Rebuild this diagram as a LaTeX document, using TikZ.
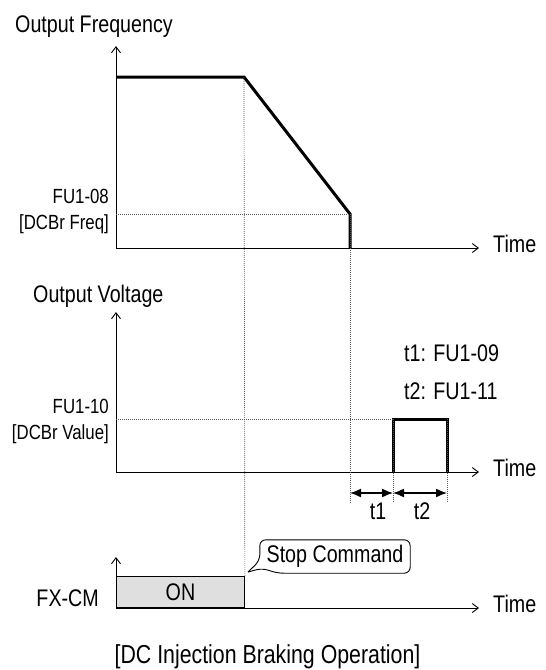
\documentclass[tikz,border=0pt]{standalone}
\usepackage{fontspec}
\setmainfont{Liberation Sans}[FakeStretch=0.82]
\usepackage{tikz}
\usetikzlibrary{positioning,arrows.meta}

\begin{document}
\begin{tikzpicture}[x=1pt, y=-1pt,
    font=\fontsize{24}{28}\selectfont,
    eje/.style={line width=0.9pt, -{Straight Barb[length=6pt,width=9pt]}},
    senal/.style={line width=3pt, line join=miter},
    guia/.style={line width=0.7pt, gray!70!black, dash pattern=on 1pt off 1pt},
    cota/.style={line width=1.4pt, {Latex[length=11pt,width=9pt]}-{Latex[length=11pt,width=9pt]}},
    etq/.style={inner sep=0pt},
    nivel/.style={etq, anchor=base east, font=\fontsize{20.5}{24}\selectfont}]
    \useasboundingbox (0,0) rectangle (546,670);

    % Ejes de los tres diagramas
    \foreach \n/\yo/\yt in {f/248/46, v/472/312, c/608/557} {
        \coordinate (o\n) at (116,\yo);
        \coordinate (top\n) at (116,\yt);
        \coordinate (end\n) at (479,\yo);
        \draw[eje] (o\n) -- (top\n);
        \draw[eje] (o\n) -- (end\n);
        \node[etq, anchor=base west] (time\n) at (493,\yo+4) {Time};
    }

    % Titulos de los ejes
    \node[etq, anchor=base west] (freq) at (15,32) {Output Frequency};
    \node[etq, anchor=base west] (volt) at (33,302) {Output Voltage};
    \node[etq, anchor=base east] (fxcm) at (99,606) {FX-CM};

    % Frecuencia de salida
    \coordinate (f0) at (116,77);
    \coordinate (f1) at (244,77);
    \coordinate (f2) at (350,214);
    \coordinate (f3) at (350,248);
    \draw[senal] (f0) -- (f1) -- (f2) -- (f3);

    % Tension de salida (frenado DC)
    \coordinate (p0) at (393,472);
    \coordinate (p1) at (393,419);
    \coordinate (p2) at (447,419);
    \coordinate (p3) at (447,472);
    \draw[senal] (p0) -- (p1) -- (p2) -- (p3);

    % Niveles de referencia
    \draw[guia] (of |- f2) -- (f2);
    \draw[guia] (ov |- p1) -- (p1);
    \node[nivel] (fu108) at (109,203) {FU1-08};
    \node[nivel] (dcbf) at (109,229) {[DCBr Freq]};
    \node[nivel] (fu110) at (109,413) {FU1-10};
    \node[nivel] (dcbv) at (109,439) {[DCBr Value]};

    % Senal FX-CM
    \node[draw, line width=0.9pt, fill=gray!25, minimum width=128pt, minimum height=31pt,
          inner sep=0pt, anchor=south west] (on) at (oc) {ON};
    \coordinate (tip) at ([xshift=3pt,yshift=4pt]on.north east);

    % Lineas de guia verticales
    \coordinate (base) at (0,503);
    \draw[guia] (f1) -- (on.north east);
    \foreach \p in {f2, p1, p2}
        \draw[guia] (\p) -- (\p |- base);

    % Cotas t1 y t2
    \coordinate (cb) at (0,493);
    \draw[cota] (f2 |- cb) -- (p1 |- cb);
    \draw[cota] (p1 |- cb) -- (p2 |- cb);
    \node[etq, anchor=base] (t1) at (378,519) {t1};
    \node[etq, anchor=base] (t2) at (422,519) {t2};
    \node[etq, anchor=base west] (leyt1) at (404,361) {t1: FU1-09};
    \node[etq, anchor=base west] (leyt2) at (404,399) {t2: FU1-11};

    % Globo de la orden de parada
    \node[minimum width=150pt, minimum height=33pt, inner sep=0pt] (stop) at (335,556.5) {Stop Command};
    \draw[line width=0.9pt, rounded corners=6pt] (tip) -- ([yshift=-4pt]stop.west)
        -- (stop.north west) -- (stop.north east) -- (stop.south east)
        -- ([xshift=18pt]stop.south west) -- ([xshift=2pt,yshift=5pt]stop.south west) -- (tip);

    % Titulo
    \node[etq, anchor=base, font=\fontsize{26}{30}\selectfont] (titulo) at (267.5,663)
        {[DC Injection Braking Operation]};
\end{tikzpicture}
\end{document}
